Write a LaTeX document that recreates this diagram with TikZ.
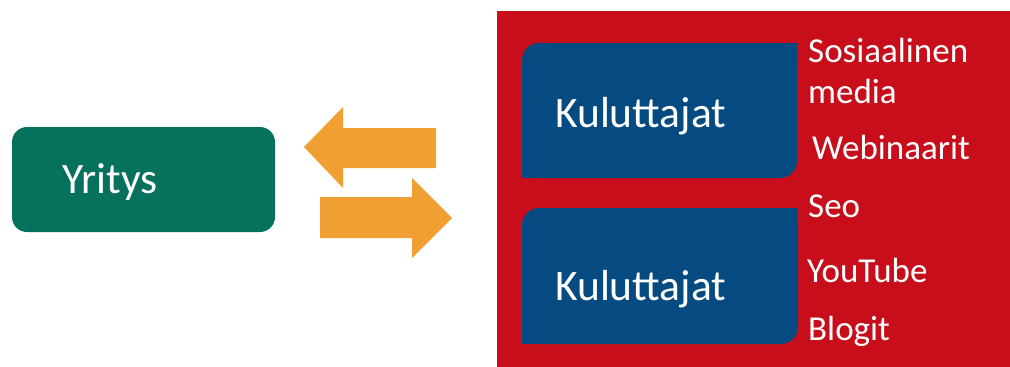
\documentclass[tikz,border=0pt]{standalone}
\usepackage{xcolor}
\usepackage{fontspec}
\setmainfont{Carlito}
\usepackage{tikz}
\definecolor{yritysgreen}{RGB}{6, 113, 92}
\definecolor{kulublue}{RGB}{5, 74, 128}
\definecolor{kanavared}{RGB}{200, 14, 26}
\definecolor{nuolioranssi}{RGB}{240, 160, 50}

\begin{document}
\begin{tikzpicture}[
    x=1pt, y=-1pt,
    boxtext/.style={anchor=base west, inner sep=0pt, text=white, font=\fontsize{43.5}{43.5}\selectfont},
    kanava/.style={anchor=base west, inner sep=0pt, text=white, font=\fontsize{35}{35}\selectfont}
  ]
  \useasboundingbox (0,0) rectangle (1010,367);

  \fill[yritysgreen, rounded corners=15pt] (12,127) rectangle (275,232);
  \node[boxtext] (yritys) at (62,193) {Yritys};

  \fill[nuolioranssi] (304,147) -- (343,107) -- (343,128) -- (436,128)
    -- (436,168) -- (343,168) -- (343,188) -- cycle;
  \fill[nuolioranssi] (452,218) -- (412,178) -- (412,197) -- (320,197)
    -- (320,238) -- (412,238) -- (412,258) -- cycle;

  \fill[kanavared] (497,11) rectangle (1010,367);

  \fill[kulublue, rounded corners=17pt] (522,43) rectangle (797,178);
  \fill[kulublue] (660,43) rectangle (797,110);
  \fill[kulublue] (522,110) rectangle (660,178);
  \node[boxtext] (kulu1) at (555,127) {Kuluttajat};

  \fill[kulublue, rounded corners=17pt] (522,208) rectangle (798,344);
  \fill[kulublue] (660,208) rectangle (798,276);
  \fill[kulublue] (522,276) rectangle (660,344);
  \node[boxtext] (kulu2) at (555,300) {Kuluttajat};

  \node[kanava] (some) at (808,62) {Sosiaalinen};
  \node[kanava] (media) at (808,103) {media};
  \node[kanava] (webinaarit) at (812,159) {Webinaarit};
  \node[kanava] (seo) at (808,217) {Seo};
  \node[kanava] (youtube) at (807,282) {YouTube};
  \node[kanava] (blogit) at (808,340) {Blogit};
\end{tikzpicture}
\end{document}
